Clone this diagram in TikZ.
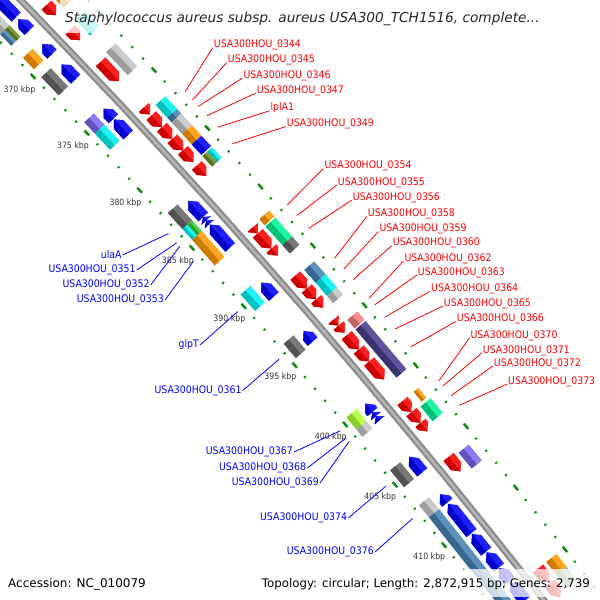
\documentclass[tikz,border=0pt]{standalone}
\usepackage{fontspec}
\setmainfont{DejaVu Sans}
\newfontfamily\lblfont{DejaVu Sans Condensed}
\usepackage{xcolor}

\definecolor{bbdark}{HTML}{8C8C8C}
\definecolor{bblight}{HTML}{B4B4B4}
\definecolor{tickgreen}{HTML}{138A13}
\definecolor{gred}{HTML}{FF0000}
\definecolor{gblue}{HTML}{0000FF}
\definecolor{gorange}{HTML}{FF9900}
\definecolor{gcyan}{HTML}{00F0F0}
\definecolor{glgrey}{HTML}{C4C4C4}
\definecolor{gdgrey}{HTML}{666666}
\definecolor{gsteel}{HTML}{4682B4}
\definecolor{golive}{HTML}{6B8E23}
\definecolor{glime}{HTML}{32CD32}
\definecolor{gspring}{HTML}{00F294}
\definecolor{gdslate}{HTML}{483D8B}
\definecolor{gmslate}{HTML}{7B68EE}
\definecolor{gcoral}{HTML}{F08080}
\definecolor{gyelgreen}{HTML}{ADFF2F}
\definecolor{gsea}{HTML}{8FBC8F}

\def\Rb{7204}

% forward arrow: start, end, track offset, colour
\newcommand{\gfwd}[4]{%
  \colorlet{gfc}{#4}%
  \pgfmathsetmacro\rIn{\Rb+#3-6.5}\pgfmathsetmacro\rOut{\Rb+#3+6.5}%
  \pgfmathsetmacro\rMid{\Rb+#3}\pgfmathsetmacro\kHead{max(#1,#2-0.45)}%
  \fill[gfc!88!white] ({ang(#1)}:\rIn) -- ({ang(\kHead)}:\rIn) -- ({ang(#2)}:\rMid)
    -- ({ang(\kHead)}:\rOut) -- ({ang(#1)}:\rOut) -- cycle;
  \fill[gfc!80!black] ({ang(#1)}:\rIn) -- ({ang(\kHead)}:\rIn) -- ({ang(#2)}:\rMid)
    -- ({ang(#1)}:\rMid) -- cycle;
}
% reverse arrow
\newcommand{\grev}[4]{%
  \colorlet{gfc}{#4}%
  \pgfmathsetmacro\rIn{\Rb+#3-6.5}\pgfmathsetmacro\rOut{\Rb+#3+6.5}%
  \pgfmathsetmacro\rMid{\Rb+#3}\pgfmathsetmacro\kHead{min(#2,#1+0.45)}%
  \fill[gfc!88!white] ({ang(#1)}:\rMid) -- ({ang(\kHead)}:\rIn) -- ({ang(#2)}:\rIn)
    -- ({ang(#2)}:\rOut) -- ({ang(\kHead)}:\rOut) -- cycle;
  \fill[gfc!80!black] ({ang(#1)}:\rMid) -- ({ang(\kHead)}:\rIn) -- ({ang(#2)}:\rIn)
    -- ({ang(#2)}:\rMid) -- cycle;
}
% COG box: start, end, inner offset, outer offset, colour
\newcommand{\gcog}[5]{%
  \colorlet{gfc}{#5}%
  \pgfmathsetmacro\rIn{\Rb+#3}\pgfmathsetmacro\rOut{\Rb+#4}%
  \pgfmathsetmacro\rMid{(\rIn+\rOut)/2}%
  \fill[gfc!88!white] ({ang(#1)}:\rIn) -- ({ang(#2)}:\rIn) -- ({ang(#2)}:\rOut)
    -- ({ang(#1)}:\rOut) -- cycle;
  \fill[gfc!80!black] ({ang(#1)}:\rIn) -- ({ang(#2)}:\rIn) -- ({ang(#2)}:\rMid)
    -- ({ang(#1)}:\rMid) -- cycle;
}

\begin{document}
\begin{tikzpicture}[x=1pt,y=-1pt,
  declare function={ang(\p)=-43.74+(\p-370)*0.12475;},
  rlab/.style={anchor=west,inner sep=1pt,text=gred,font=\lblfont\fontsize{10.4}{12}\selectfont},
  blab/.style={anchor=east,inner sep=1pt,text=gblue,font=\lblfont\fontsize{10.4}{12}\selectfont},
  rlead/.style={draw=gred,line width=0.8pt},
  blead/.style={draw=gblue,line width=0.8pt},
  tick/.style={draw=tickgreen,line width=2.4pt},
  kbp/.style={text=black!80,inner sep=0pt,font=\lblfont\fontsize{8.7}{10}\selectfont}]
\useasboundingbox (0,0) rectangle (600,600);
\clip (0,0) rectangle (600,600);

\begin{scope}[shift={(-5139.6,5026.5)}]
% backbone
\draw[line width=7pt,draw=bbdark] plot[domain=362:420,samples=14] ({ang(\x)}:\Rb);
\draw[line width=2.6pt,draw=bblight] plot[domain=362:420,samples=14] ({ang(\x)}:\Rb);

% ruler dots and dashes
\foreach \k in {362,...,420}{
  \draw[tick] ({ang(\k-0.06)}:{\Rb+48}) -- ({ang(\k+0.06)}:{\Rb+48});
  \draw[tick] ({ang(\k-0.06)}:{\Rb-44}) -- ({ang(\k+0.06)}:{\Rb-44});
}
\foreach \k in {365,370,...,420}{
  \draw[tick] ({ang(\k-0.22)}:{\Rb+48}) -- ({ang(\k+0.22)}:{\Rb+48});
  \draw[tick] ({ang(\k-0.22)}:{\Rb-44}) -- ({ang(\k+0.22)}:{\Rb-44});
}
\foreach \k in {370,375,...,410}
  \node[kbp] (kb\k) at ({ang(\k)}:{\Rb-63}) {\k\ kbp};

% reverse strand genes
\foreach \a/\b in {364.0/366.5, 366.7/367.7, 368.9/369.8, 370.7/372.0, 374.6/375.5,
  375.55/376.9, 382.6/384.0, 384.0/384.3, 384.3/384.6, 384.65/386.6, 389.6/390.8,
  393.7/394.6, 399.8/400.5, 400.5/400.85, 400.85/401.2, 404.2/405.5, 407.3/408.0,
  408.1/410.5, 410.55/412.0, 412.05/413.3, 413.35/414.4, 414.5/416.0}
  \grev{\a}{\b}{-15}{gblue};
% forward strand genes
\foreach \a/\b in {367.3/368.2, 369.5/370.4, 372.3/374.0, 376.3/376.9, 377.0/378.0,
  378.0/379.0, 379.0/380.0, 380.0/381.0, 381.3/382.2, 386.6/387.1, 387.1/388.4,
  388.4/389.0, 390.7/391.8, 391.8/392.7, 392.7/393.4, 394.4/394.9, 394.9/395.5,
  395.7/396.9, 396.9/397.9, 397.9/399.4, 401.2/402.1, 402.1/403.0, 403.0/403.7,
  405.8/407.0, 414.9/416.0, 416.1/417.2}
  \gfwd{\a}{\b}{15}{gred};

% COG classes, forward
\foreach \a/\b/\c in {367.3/368.2/gorange, 369.3/370.6/gcyan, 372.1/374.1/glgrey,
  376.7/377.8/gcyan, 377.8/378.2/gsteel, 378.2/379.2/glgrey, 379.2/380.1/gorange,
  380.1/381.0/gblue, 386.5/387.0/gorange, 387.1/388.7/gspring, 388.7/389.4/gdgrey,
  390.8/391.9/gsteel, 391.9/393.0/gcyan, 393.0/393.6/glgrey, 395.0/395.7/gcoral,
  395.8/397.6/gdslate, 397.6/399.8/gdslate, 402.2/403.4/gspring, 406.0/407.3/gmslate,
  414.9/415.9/gorange, 415.9/417.0/gsea}
  \gcog{\a}{\b}{25.5}{38.5}{\c};
\gcog{381.1}{382.0}{32}{38.5}{gcyan}
\gcog{381.1}{382.0}{25.5}{32}{golive}
\gcog{401.2}{402.0}{29.5}{35.5}{gorange}

% COG classes, reverse
\foreach \a/\b/\c in {365.2/366.6/glgrey, 368.7/369.7/gorange, 370.4/372.0/gdgrey,
  374.4/375.4/gmslate, 375.4/376.8/gcyan, 382.3/383.7/gdgrey, 384.6/386.8/gorange,
  389.3/390.7/gcyan, 393.5/394.7/gdgrey, 399.7/400.7/gyelgreen, 400.7/401.3/glgrey,
  404.1/405.5/gdgrey, 407.0/408.0/glgrey, 408.0/415.5/gsteel}
  \gcog{\a}{\b}{-38.5}{-25.5}{\c};
\gcog{366.6}{367.6}{-32}{-25.5}{golive}
\gcog{366.6}{367.6}{-38.5}{-32}{gsteel}
\gcog{383.7}{384.6}{-32}{-25.5}{glime}
\gcog{383.7}{384.6}{-38.5}{-32}{gcyan}

% label targets
\foreach \n/\k in {0344/377.35, 0345/378.05, 0346/378.6, 0347/379.4, lplA1/380.4,
  0349/381.8, 0354/387.0, 0355/387.9, 0356/389.0, 0358/391.5, 0359/392.4,
  0360/393.3, 0362/394.85, 0363/395.4, 0364/396.4, 0365/397.4, 0366/398.9,
  0370/401.7, 0371/402.1, 0372/402.9, 0373/403.7}
  \coordinate (t\n) at ({ang(\k)}:{\Rb+56});
\foreach \n/\k in {ulaA/383.3, 0351/384.1, 0352/384.4, 0353/385.7, glpT/390.0,
  0361/394.05, 0367/400.1, 0368/400.7, 0369/401.0, 0374/404.7, 0376/407.4}
  \coordinate (t\n) at ({ang(\k)}:{\Rb-52});
\end{scope}

% outer labels
\foreach \n/\x/\y in {0344/212.7/45, 0345/226.7/60, 0346/242.3/75.5, 0347/255.7/90.5,
  0349/285.7/124, 0354/323.3/166, 0355/336.7/182.5, 0356/351.7/197.5,
  0358/366.7/214, 0359/378.3/229, 0360/391.7/243, 0362/403.3/258.5,
  0363/416.7/272.5, 0364/430/288.5, 0365/442.7/303.5, 0366/455.7/319,
  0370/469.3/335.5, 0371/481.7/350.5, 0372/492.7/363.5, 0373/507/381.5}
{
  \node[rlab] (l\n) at (\x,\y) {USA300HOU\_\n};
  \draw[rlead] (l\n.base west) -- (t\n);
}
\node[rlab] (llplA1) at (269.3,108) {lplA1};
\draw[rlead] (llplA1.base west) -- (tlplA1);

% inner labels
\foreach \n/\x/\y in {0351/136.7/270, 0352/150.7/285, 0353/165/300,
  0361/242.7/390.5, 0367/294/452, 0368/307.3/468, 0369/320/483,
  0374/348.3/518, 0376/375/552}
{
  \node[blab] (l\n) at (\x,\y) {USA300HOU\_\n};
  \draw[blead] (l\n.east) -- (t\n);
}
\node[blab] (lulaA) at (122.7,255) {ulaA};
\draw[blead] (lulaA.east) -- (tulaA);
\node[blab] (lglpT) at (200,345) {glpT};
\draw[blead] (lglpT.east) -- (tglpT);

% title and footer
\fill[white,fill opacity=0.75] (60,0) rectangle (545,33);
\fill[white,fill opacity=0.75] (0,569) rectangle (152,597);
\fill[white,fill opacity=0.75] (257,569) rectangle (600,597);
\node[anchor=base west,inner sep=0pt,text=black!85,font=\fontsize{13.7}{16}\selectfont\itshape]
  (title) at (65,22) {Staphylococcus aureus subsp. aureus USA300\_TCH1516, complete...};
\node[anchor=base west,inner sep=0pt,font=\fontsize{12}{14}\selectfont]
  (acc) at (8,587) {Accession: NC\_010079};
\node[anchor=base east,inner sep=0pt,font=\fontsize{11.8}{14}\selectfont]
  (topo) at (590,587) {Topology: circular; Length: 2,872,915 bp; Genes: 2,739};
\end{tikzpicture}
\end{document}
